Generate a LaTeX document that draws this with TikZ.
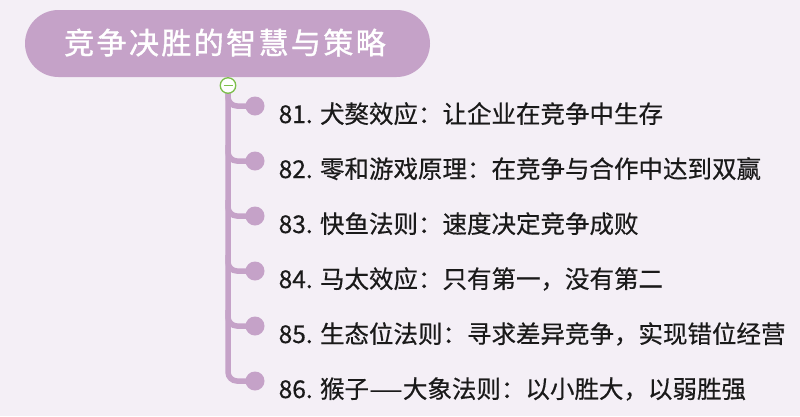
\documentclass[tikz,border=0pt]{standalone}
\usepackage{fontspec}
\usepackage{graphicx}
\setmainfont{Noto Sans CJK SC}
\newfontfamily\cjktext[FakeBold=0.5]{Noto Sans CJK SC}
\newfontfamily\cjktitle[LetterSpace=8,FakeBold=1.2]{Noto Sans CJK SC}
\definecolor{bgc}{HTML}{F4EFF6}
\definecolor{purp}{HTML}{C5A2C8}
\definecolor{grn}{HTML}{7DBF4C}
\definecolor{txt}{HTML}{1A1A1A}
\newcommand{\longdash}{\scalebox{1.55}[1]{—}}
\tikzset{
  rootbox/.style={fill=purp, draw=none, rounded corners=33.5pt, minimum width=405pt, minimum height=67pt, inner sep=0pt},
  titletext/.style={anchor=base west, inner sep=0pt, text=white, font=\fontsize{30pt}{34pt}\cjktitle},
  leaf/.style={anchor=base west, inner sep=0pt, text=txt, font=\fontsize{24.5pt}{28pt}\cjktext},
  dotc/.style={circle, fill=purp, minimum size=19pt, inner sep=0pt},
  trunk/.style={draw=purp, line width=5.5pt},
}
\begin{document}
\begin{tikzpicture}[x=1pt,y=-1pt]
\useasboundingbox (0,0) rectangle (800,416);
\fill[bgc] (0,0) rectangle (800,416);
\node[rootbox] (root) at (227.5,43.5) {};
\node[titletext] (title) at (64,54) {竞争决胜的智慧与策略};
% dots
\foreach \i/\y in {1/106,2/161,3/216,4/271,5/326,6/381}{
  \node[dotc] (d\i) at (255,\y) {};
}
\coordinate (top) at (228,85.5);
\draw[trunk, rounded corners=9pt] (top) |- (d6.center);
\foreach \i in {1,...,5}{
  \draw[trunk, rounded corners=9pt] (228,{(\i-1)*55+90}) |- (d\i.center);
}
% collapse button
\node[circle, draw=grn, fill=white, line width=1.3pt, minimum size=15.5pt, inner sep=0pt] (btn) at (top) {};
\draw[grn, line width=1.8pt] ([xshift=-4.5pt]btn.center) -- ([xshift=4.5pt]btn.center);
% texts
\node[leaf] (t1) at (278.5,123) {81. 犬獒效应：让企业在竞争中生存};
\node[leaf] (t2) at (278.5,178) {82. 零和游戏原理：在竞争与合作中达到双赢};
\node[leaf] (t3) at (278.5,233) {83. 快鱼法则：速度决定竞争成败};
\node[leaf] (t4) at (278.5,288) {84. 马太效应：只有第一，没有第二};
\node[leaf] (t5) at (278.5,343) {85. 生态位法则：寻求差异竞争，实现错位经营};
\node[leaf] (t6) at (278.5,398) {86. 猴子\longdash 大象法则：以小胜大，以弱胜强};
\end{tikzpicture}
\end{document}
